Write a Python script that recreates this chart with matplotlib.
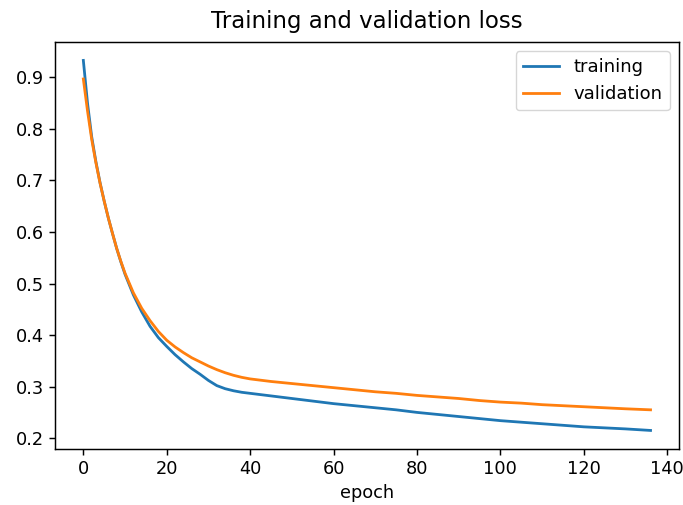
import matplotlib
matplotlib.use("Agg")
import matplotlib.pyplot as plt

epochs = [0, 1, 2, 3, 4, 5, 6, 7, 8, 9, 10, 12, 14, 16, 18, 20, 22, 24, 26, 28,
          30, 32, 34, 36, 38, 40, 45, 50, 55, 60, 65, 70, 75, 80, 85, 90, 95,
          100, 105, 110, 115, 120, 125, 130, 136]

training = [0.933, 0.850, 0.785, 0.737, 0.696, 0.660, 0.627, 0.597, 0.568, 0.542,
            0.518, 0.478, 0.445, 0.417, 0.395, 0.378, 0.362, 0.348, 0.335, 0.324,
            0.312, 0.302, 0.296, 0.292, 0.289, 0.287, 0.282, 0.277, 0.272, 0.267,
            0.263, 0.259, 0.255, 0.250, 0.246, 0.242, 0.238, 0.234, 0.231, 0.228,
            0.225, 0.222, 0.220, 0.218, 0.215]

validation = [0.897, 0.835, 0.780, 0.735, 0.695, 0.660, 0.627, 0.597, 0.568, 0.543,
              0.520, 0.482, 0.452, 0.428, 0.407, 0.390, 0.377, 0.366, 0.356, 0.348,
              0.340, 0.333, 0.327, 0.322, 0.318, 0.315, 0.310, 0.306, 0.302, 0.298,
              0.294, 0.290, 0.287, 0.283, 0.280, 0.277, 0.273, 0.270, 0.268, 0.265,
              0.263, 0.261, 0.259, 0.257, 0.255]

fig = plt.figure(figsize=(6.83, 5.05), dpi=100)
ax = fig.add_axes([0.0805, 0.111, 0.9135, 0.806])

ax.plot(epochs, training, label='training', linewidth=2.0)
ax.plot(epochs, validation, label='validation', linewidth=2.0)

ax.set_title('Training and validation loss', fontsize=16.5, pad=10)
ax.set_xlabel('epoch', fontsize=12.8, labelpad=4)
ax.tick_params(labelsize=12.8, length=4.6, width=1.05)
for s in ax.spines.values():
    s.set_linewidth(1.05)
ax.legend(fontsize=13)

fig.savefig('out.png', dpi=100)
